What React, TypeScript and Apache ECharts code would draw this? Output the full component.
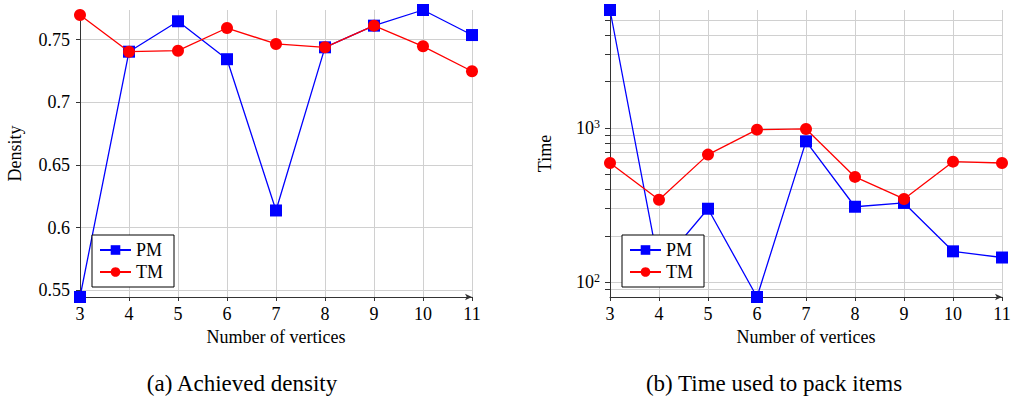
import React, { useEffect, useRef } from "react";
import * as echarts from "echarts";

const vertices = [3, 4, 5, 6, 7, 8, 9, 10, 11];
const densityPM = [0.5445, 0.7404, 0.7647, 0.7344, 0.6136, 0.7439, 0.7612, 0.7737, 0.7537];
const densityTM = [0.7697, 0.7404, 0.7412, 0.7593, 0.7466, 0.7439, 0.7612, 0.7447, 0.7248];
const timePM = [5800, 126, 300, 80.5, 819, 309, 327, 159, 145];
const timeTM = [593, 343, 672, 975, 985, 482, 347, 605, 593];
const timeGridValues = [90, 100, 200, 300, 400, 500, 600, 700, 800, 900, 1000, 2000, 3000, 4000, 5000];
const seriesNames = ["PM", "TM"];
const captions = ["(a) Achieved density", "(b) Time used to pack items"];

const FONT = "Liberation Serif";
const GRID = "#d0d0d0";
const AXIS = "#333";

export default function App() {
  const ref = useRef<HTMLDivElement>(null);
  useEffect(() => {
    const chart = echarts.init(ref.current!, null, { renderer: "svg" });
    const pair = (xs: number[], ys: number[]) => xs.map((x, i) => [x, ys[i]]);
    const xAxisBase = (gridIndex: number) => ({
      type: "value",
      gridIndex,
      min: 3,
      max: 11,
      interval: 1,
      name: "Number of vertices",
      nameLocation: "middle",
      nameGap: 31,
      nameTextStyle: { fontFamily: FONT, fontSize: 18, color: "#000" },
      axisLine: { show: true, lineStyle: { color: AXIS, width: 1 }, symbol: ["none", "arrow"], symbolSize: [5, 7] },
      axisTick: { show: true, length: 4, lineStyle: { color: AXIS } },
      axisLabel: { fontFamily: FONT, fontSize: 18, color: "#000", margin: 8 },
      splitLine: { show: true, showMinLine: false, lineStyle: { color: GRID, width: 1 } },
    });
    const legendBase = (left: number) => ({
      left,
      top: 235,
      orient: "vertical",
      data: seriesNames,
      backgroundColor: "#fff",
      borderColor: "#000",
      borderWidth: 1,
      borderRadius: 0,
      padding: [6, 11, 6, 7],
      itemGap: 4,
      itemWidth: 31,
      itemHeight: 12,
      textStyle: { fontFamily: FONT, fontSize: 18, color: "#000" },
    });
    const option: any = {
      animation: false,
      textStyle: { fontFamily: FONT },
      grid: [
        { left: 80, top: 10, width: 392, height: 287 },
        { left: 610, top: 10, width: 392, height: 287 },
      ],
      legend: [legendBase(92), legendBase(622)],
      xAxis: [xAxisBase(0), xAxisBase(1)],
      yAxis: [
        {
          type: "value",
          gridIndex: 0,
          min: 0.5445,
          max: 0.7737,
          name: "Density",
          nameLocation: "middle",
          nameGap: 56,
          nameTextStyle: { fontFamily: FONT, fontSize: 18, color: "#000" },
          axisLine: { show: true, lineStyle: { color: AXIS, width: 1 } },
          axisTick: { show: true, length: 4, lineStyle: { color: AXIS } },
          axisLabel: { fontFamily: FONT, fontSize: 18, color: "#000", margin: 10, showMinLabel: false, showMaxLabel: false },
          splitLine: { show: true, showMinLine: false, showMaxLine: false, lineStyle: { color: GRID, width: 1 } },
        },
        {
          type: "log",
          logBase: 10,
          gridIndex: 1,
          min: 80.5,
          max: 5800,
          name: "Time",
          nameLocation: "middle",
          nameGap: 56,
          nameTextStyle: { fontFamily: FONT, fontSize: 18, color: "#000" },
          axisLine: { show: true, lineStyle: { color: AXIS, width: 1 } },
          axisTick: { show: true, length: 5, customValues: timeGridValues, lineStyle: { color: AXIS } },
          axisLabel: {
            margin: 10,
            showMinLabel: false,
            showMaxLabel: false,
            formatter: (v: number) => {
              const l = Math.log10(v);
              const e = Math.round(l);
              if (Math.abs(l - e) > 1e-6) return "";
              return `{b|10}{s|${e}}`;
            },
            rich: {
              b: { fontFamily: FONT, fontSize: 18, color: "#000" },
              s: { fontFamily: FONT, fontSize: 12, color: "#000", padding: [0, 0, 8, 0] },
            },
          },
          splitLine: { show: false },
        },
      ],
      series: [
        {
          name: "grid-lines", type: "line", xAxisIndex: 1, yAxisIndex: 1, data: [], z: 0,
          markLine: {
            silent: true,
            z: 0,
            symbol: ["none", "none"],
            label: { show: false },
            lineStyle: { color: GRID, width: 1, type: "solid" },
            emphasis: { disabled: true },
            data: timeGridValues.map((v) => ({ yAxis: v })),
          },
        },
        {
          name: "PM", type: "line", xAxisIndex: 0, yAxisIndex: 0,
          data: pair(vertices, densityPM), symbol: "rect", symbolSize: 12,
          lineStyle: { color: "#0000ff", width: 1.3 }, itemStyle: { color: "#0000ff" }, z: 3,
        },
        {
          name: "TM", type: "line", xAxisIndex: 0, yAxisIndex: 0,
          data: pair(vertices, densityTM), symbol: "circle", symbolSize: 12,
          lineStyle: { color: "#ff0000", width: 1.3 }, itemStyle: { color: "#ff0000" }, z: 4,
        },
        {
          name: "PM", type: "line", xAxisIndex: 1, yAxisIndex: 1,
          data: pair(vertices, timePM), symbol: "rect", symbolSize: 12,
          lineStyle: { color: "#0000ff", width: 1.3 }, itemStyle: { color: "#0000ff" }, z: 3,
        },
        {
          name: "TM", type: "line", xAxisIndex: 1, yAxisIndex: 1,
          data: pair(vertices, timeTM), symbol: "circle", symbolSize: 12,
          lineStyle: { color: "#ff0000", width: 1.3 }, itemStyle: { color: "#ff0000" }, z: 4,
        },
      ],
      graphic: [
        { type: "text", x: 242, y: 383, style: { text: captions[0], fontFamily: FONT, fontSize: 23, fill: "#000", textAlign: "center", textVerticalAlign: "middle" } },
        { type: "text", x: 774, y: 383, style: { text: captions[1], fontFamily: FONT, fontSize: 23, fill: "#000", textAlign: "center", textVerticalAlign: "middle" } },
      ],
    };
    chart.setOption(option);
    return () => chart.dispose();
  }, []);
  return <div ref={ref} style={{ position: "fixed", left: 0, top: 0, width: 1014, height: 402, background: "#fff" }} />;
}
